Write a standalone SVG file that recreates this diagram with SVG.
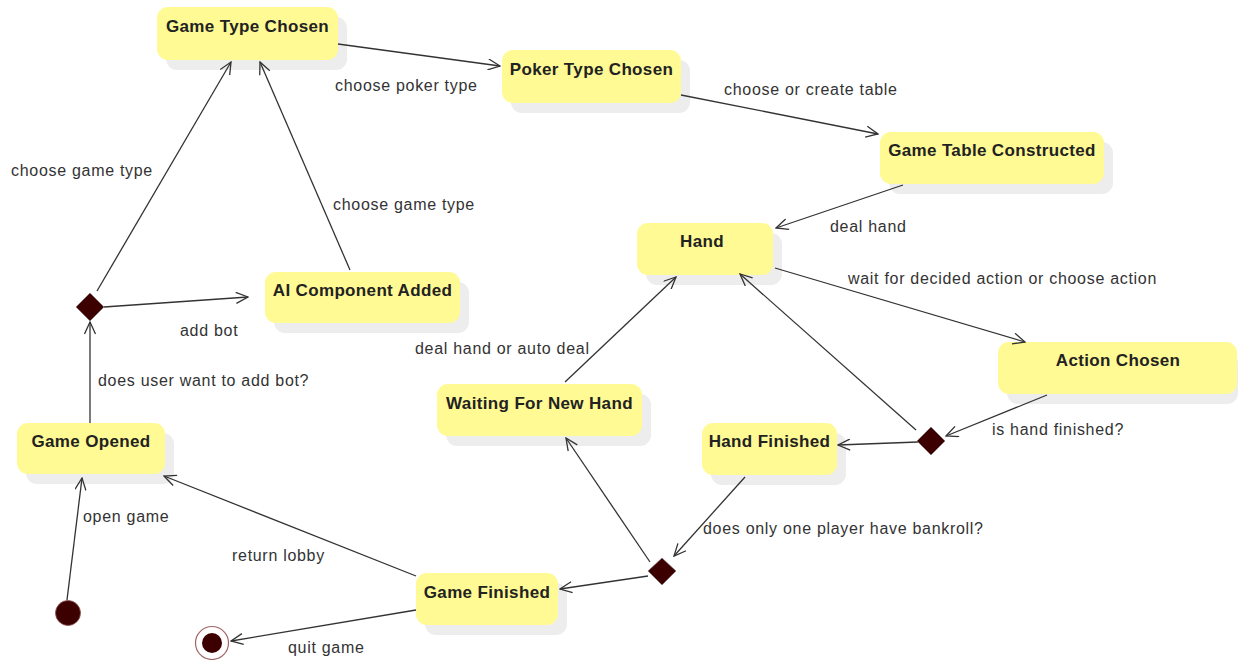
<svg xmlns="http://www.w3.org/2000/svg" width="1238" height="660" viewBox="0 0 1238 660">
<defs>
<style>
.shadow{fill:#ededed}
.box{fill:#fffa94}
.title{font-family:"Liberation Sans",Arial,sans-serif;font-size:17px;font-weight:bold;fill:#222;text-anchor:middle;letter-spacing:0.35px}
.lbl{font-family:"Liberation Sans",Arial,sans-serif;font-size:16px;fill:#333;letter-spacing:0.7px}
.edge{stroke:#333;stroke-width:1.3;fill:none;marker-end:url(#arr)}
.dec{fill:#3d0000;stroke:#777;stroke-width:0.6}
</style>
<marker id="arr" markerUnits="userSpaceOnUse" markerWidth="14" markerHeight="12" refX="13" refY="6" orient="auto">
<path d="M1,0.5 L13,6 L1,11.5" fill="none" stroke="#333" stroke-width="1.3"/>
</marker>
</defs>
<rect width="1238" height="660" fill="#ffffff"/>

<g id="game-type-chosen">
<rect class="shadow" x="166" y="17" width="181" height="53" rx="11"/>
<rect class="box" x="157" y="7" width="181" height="53" rx="11"/>
<text class="title" x="247.5" y="32">Game Type Chosen</text>
</g>
<g id="poker-type-chosen">
<rect class="shadow" x="511" y="60" width="179" height="53" rx="11"/>
<rect class="box" x="502" y="50" width="179" height="53" rx="11"/>
<text class="title" x="591.5" y="75">Poker Type Chosen</text>
</g>
<g id="game-table-constructed">
<rect class="shadow" x="889" y="142" width="224" height="52" rx="11"/>
<rect class="box" x="880" y="132" width="224" height="52" rx="11"/>
<text class="title" x="992" y="156">Game Table Constructed</text>
</g>
<g id="hand">
<rect class="shadow" x="646" y="233" width="136" height="52" rx="11"/>
<rect class="box" x="637" y="223" width="136" height="52" rx="11"/>
<text class="title" x="702" y="247">Hand</text>
</g>
<g id="action-chosen">
<rect class="shadow" x="1007" y="352" width="231" height="52" rx="11"/>
<rect class="box" x="998" y="342" width="239" height="52" rx="11"/>
<text class="title" x="1118" y="366">Action Chosen</text>
</g>
<g id="ai-component-added">
<rect class="shadow" x="274" y="282" width="195" height="51" rx="11"/>
<rect class="box" x="265" y="272" width="195" height="51" rx="11"/>
<text class="title" x="362.5" y="296">AI Component Added</text>
</g>
<g id="waiting-for-new-hand">
<rect class="shadow" x="446" y="394" width="205" height="52" rx="11"/>
<rect class="box" x="437" y="384" width="205" height="52" rx="11"/>
<text class="title" x="539.5" y="409">Waiting For New Hand</text>
</g>
<g id="hand-finished">
<rect class="shadow" x="711" y="433" width="135" height="52" rx="11"/>
<rect class="box" x="702" y="423" width="135" height="52" rx="11"/>
<text class="title" x="769.5" y="447">Hand Finished</text>
</g>
<g id="game-opened">
<rect class="shadow" x="26" y="433" width="148" height="51" rx="11"/>
<rect class="box" x="17" y="423" width="148" height="51" rx="11"/>
<text class="title" x="91" y="447">Game Opened</text>
</g>
<g id="game-finished">
<rect class="shadow" x="425" y="583" width="142" height="52" rx="11"/>
<rect class="box" x="416" y="573" width="142" height="52" rx="11"/>
<text class="title" x="487" y="598">Game Finished</text>
</g>

<g id="connectors">
<path class="edge" d="M67,600 L82,478"/>
<path class="edge" d="M90,423 L90,322"/>
<path class="edge" d="M104,307 L248,297"/>
<path class="edge" d="M97,291 L231,62"/>
<path class="edge" d="M350,270 L260,62"/>
<path class="edge" d="M338,44 L500,66"/>
<path class="edge" d="M681,95 L878,134"/>
<path class="edge" d="M903,185 L776,228"/>
<path class="edge" d="M775,268 L1025,342"/>
<path class="edge" d="M1047,395 L946,436"/>
<path class="edge" d="M916,430 L740,274"/>
<path class="edge" d="M918,442 L838,445"/>
<path class="edge" d="M745,477 L674,556"/>
<path class="edge" d="M650,562 L566,438"/>
<path class="edge" d="M648,576 L560,589"/>
<path class="edge" d="M565,382 L676,277"/>
<path class="edge" d="M416,576 L164,476"/>
<path class="edge" d="M416,610 L231,641"/>
<text class="lbl" x="335" y="91">choose poker type</text>
<text class="lbl" x="724" y="95">choose or create table</text>
<text class="lbl" x="11" y="176">choose game type</text>
<text class="lbl" x="333" y="210">choose game type</text>
<text class="lbl" x="830" y="232">deal hand</text>
<text class="lbl" x="848" y="284">wait for decided action or choose action</text>
<text class="lbl" x="180" y="336">add bot</text>
<text class="lbl" x="415" y="354">deal hand or auto deal</text>
<text class="lbl" x="98" y="386">does user want to add bot?</text>
<text class="lbl" x="992" y="435">is hand finished?</text>
<text class="lbl" x="83" y="522">open game</text>
<text class="lbl" x="703" y="534">does only one player have bankroll?</text>
<text class="lbl" x="232" y="561">return lobby</text>
<text class="lbl" x="288" y="653">quit game</text>
</g>

<g id="decision-add-bot">
<path class="dec" d="M90,293 L104,307 L90,321 L76,307 Z"/>
</g>
<g id="decision-hand-finished">
<path class="dec" d="M931,427 L945,441 L931,455 L917,441 Z"/>
</g>
<g id="decision-bankroll">
<path class="dec" d="M662,558 L676,571 L662,585 L648,571 Z"/>
</g>
<g id="initial-state">
<circle cx="68" cy="613" r="12.5" fill="#3d0000" stroke="#8a5050" stroke-width="0.8"/>
</g>
<g id="final-state">
<circle cx="212" cy="643" r="16.5" fill="#ffffff" stroke="#a06464" stroke-width="1.2"/>
<circle cx="212" cy="643" r="10" fill="#3d0000"/>
</g>
</svg>
